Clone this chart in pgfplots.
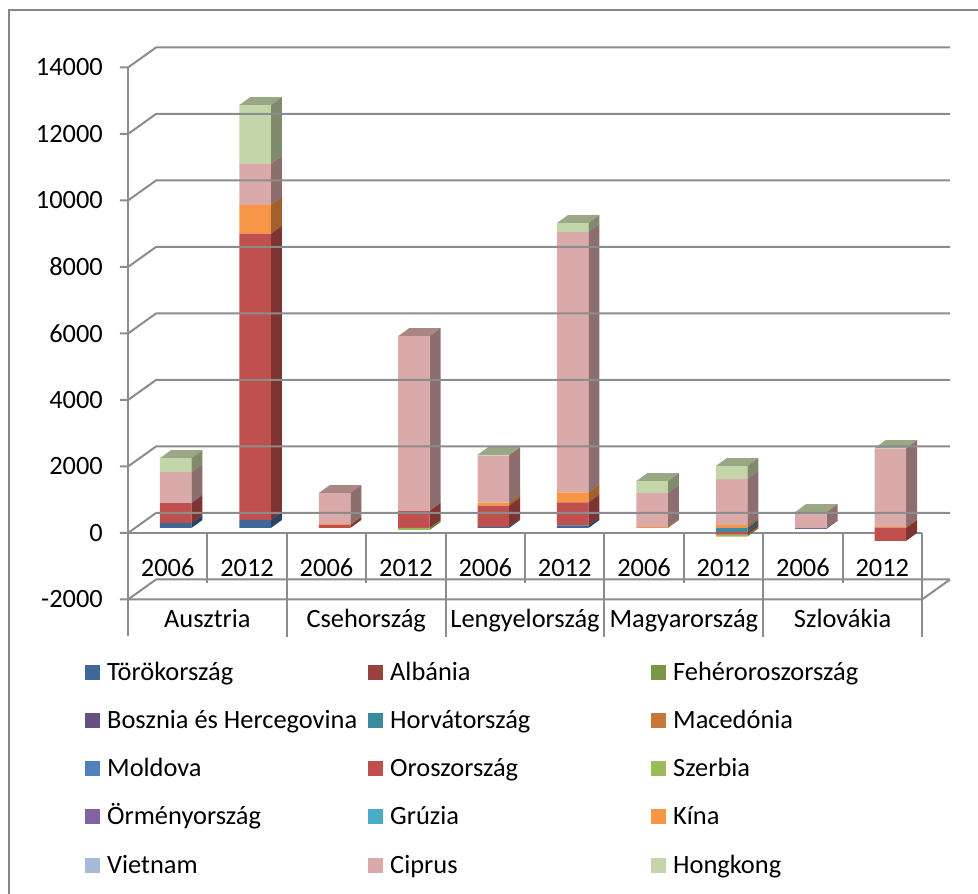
\documentclass[border=0pt]{standalone}
\usepackage{pgfplots}
\pgfplotsset{compat=1.18}
\usepackage{pgfplotstable}
\usepackage{fontspec}
\setmainfont{Carlito}
\newcommand\cf{\fontsize{26.4pt}{31pt}\selectfont}

\definecolor{cTor}{HTML}{3F6797}
\definecolor{cAlb}{HTML}{9A403E}
\definecolor{cFeh}{HTML}{7C9647}
\definecolor{cBos}{HTML}{665082}
\definecolor{cHor}{HTML}{3C8A9E}
\definecolor{cMac}{HTML}{C67838}
\definecolor{cMol}{HTML}{4F81BD}
\definecolor{cOro}{HTML}{C0504D}
\definecolor{cSze}{HTML}{9BBB59}
\definecolor{cOrm}{HTML}{8064A2}
\definecolor{cGru}{HTML}{4BACC6}
\definecolor{cKin}{HTML}{F79646}
\definecolor{cVie}{HTML}{A9BAD9}
\definecolor{cCip}{HTML}{D9AAA9}
\definecolor{cHon}{HTML}{C4D6A9}
\definecolor{gridc}{HTML}{8C8C8C}
\definecolor{borderc}{HTML}{868686}

% positive parts (stacked upward from 0)
\pgfplotstableread{
x Tor Alb Feh Bos Hor Mac Mol Oro Sze Orm Gru Kin Vie Cip Hon
0 150 0 0 0 0 0 0 600 0 0 0 0 0 930 420
1 240 0 0 0 0 0 0 8610 0 0 0 870 0 1230 1770
2 0 0 0 0 0 0 0 90 0 0 0 30 0 930 0
3 0 0 0 0 0 0 0 510 0 0 0 0 0 5260 0
4 30 0 0 0 0 0 0 640 0 0 0 90 0 1420 20
5 80 0 0 0 0 0 0 690 0 0 0 300 0 7830 270
6 0 0 0 0 0 0 0 0 0 0 0 30 0 1020 360
7 0 0 0 0 0 0 0 0 0 0 0 90 0 1380 390
8 0 0 0 0 0 0 0 0 0 0 0 0 0 470 10
9 0 0 0 0 0 0 0 0 0 0 0 30 0 2360 10
}\pos
% negative parts (stacked downward from 0)
\pgfplotstableread{
x Hor Oro Sze Orm
0 0 0 0 0
1 0 0 0 0
2 0 0 0 0
3 0 0 -60 0
4 0 0 0 0
5 0 0 0 0
6 0 0 0 0
7 -120 -80 -60 0
8 0 0 0 -20
9 0 -390 0 0
}\neg

\tikzset{gl/.style={draw=gridc, line width=2pt, line join=round}}
\newcommand\side[4]{\fill[#1!65!black] ([xshift=15.75pt]axis cs:#2,#3) -- ([xshift=26.75pt,yshift=8pt]axis cs:#2,#3) -- ([xshift=26.75pt,yshift=8pt]axis cs:#2,#4) -- ([xshift=15.75pt]axis cs:#2,#4) -- cycle;}
\newcommand\topf[3]{\fill[#1!78!black] ([xshift=-15.75pt]axis cs:#2,#3) -- ([xshift=15.75pt]axis cs:#2,#3) -- ([xshift=26.75pt,yshift=8pt]axis cs:#2,#3) -- ([xshift=-4.75pt,yshift=8pt]axis cs:#2,#3) -- cycle;}
\newcommand\gline[1]{\draw[gl] ([xshift=-16pt,yshift=-5pt]axis cs:-0.5,#1) -- ([xshift=-8pt,yshift=-5pt]axis cs:-0.5,#1) -- ([xshift=20pt,yshift=15pt]axis cs:-0.5,#1) -- ([xshift=20pt,yshift=15pt]axis cs:9.5,#1);}
\newcommand\vsep[2]{\draw[gl] ([xshift=-8pt,yshift=-5pt]axis cs:#1,0) -- ([xshift=-8pt,yshift=-5pt-#2]axis cs:#1,0);}
\newcommand\catname[2]{\node[font=\cf, anchor=base, inner sep=0pt] at ([xshift=-8pt,yshift=-33.5pt]axis cs:#1,-2000) {#2};}
\pgfplotsset{base/.style={
  at={(0,0)}, anchor=south west,
  scale only axis, width=794pt, height=532pt,
  xmin=-0.5, xmax=9.5, ymin=-2000, ymax=14000,
  enlargelimits=false, clip=false,
  ybar stacked, bar width=31.5pt}}

\begin{document}
\begin{tikzpicture}
\begin{axis}[base,
  axis line style={draw=none}, tick style={draw=none},
  scaled y ticks=false,
  ytick={-2000,0,2000,4000,6000,8000,10000,12000,14000},
  yticklabels={-2000,0,2000,4000,6000,8000,10000,12000,14000},
  yticklabel style={font=\cf, anchor=east, inner sep=0pt, xshift=-33pt, yshift=-5pt},
  xtick={0,...,9},
  xticklabels={2006,2012,2006,2012,2006,2012,2006,2012,2006,2012},
  xticklabel style={font=\cf, anchor=base, inner sep=0pt, xshift=-8pt, yshift=17.5pt},
]
% back wall grid with side-wall connectors and front ticks
\gline{-2000}\gline{0}\gline{2000}\gline{4000}\gline{6000}\gline{8000}\gline{10000}\gline{12000}\gline{14000}
% front faces (positive parts)
\pgfplotsinvokeforeach{Tor,Alb,Feh,Bos,Hor,Mac,Mol,Oro,Sze,Orm,Gru,Kin,Vie,Cip,Hon}{
  \addplot[fill=c#1, draw=none] table[x=x, y=#1] {\pos};
}
% side and top faces
\side{cTor}{0}{0}{150}\side{cOro}{0}{150}{750}\side{cCip}{0}{750}{1680}\side{cHon}{0}{1680}{2100}\topf{cHon}{0}{2100}
\side{cTor}{1}{0}{240}\side{cOro}{1}{240}{8850}\side{cKin}{1}{8850}{9720}\side{cCip}{1}{9720}{10950}\side{cHon}{1}{10950}{12720}\topf{cHon}{1}{12720}
\side{cOro}{2}{0}{90}\side{cKin}{2}{90}{120}\side{cCip}{2}{120}{1050}\topf{cCip}{2}{1050}
\side{cOro}{3}{0}{510}\side{cCip}{3}{510}{5770}\topf{cCip}{3}{5770}
\side{cTor}{4}{0}{30}\side{cOro}{4}{30}{670}\side{cKin}{4}{670}{760}\side{cCip}{4}{760}{2180}\side{cHon}{4}{2180}{2200}\topf{cHon}{4}{2200}
\side{cTor}{5}{0}{80}\side{cOro}{5}{80}{770}\side{cKin}{5}{770}{1070}\side{cCip}{5}{1070}{8900}\side{cHon}{5}{8900}{9170}\topf{cHon}{5}{9170}
\side{cKin}{6}{0}{30}\side{cCip}{6}{30}{1050}\side{cHon}{6}{1050}{1410}\topf{cHon}{6}{1410}
\side{cKin}{7}{0}{90}\side{cCip}{7}{90}{1470}\side{cHon}{7}{1470}{1860}\topf{cHon}{7}{1860}
\side{cCip}{8}{0}{470}\side{cHon}{8}{470}{480}\topf{cHon}{8}{480}
\side{cKin}{9}{0}{30}\side{cCip}{9}{30}{2390}\side{cHon}{9}{2390}{2400}\topf{cHon}{9}{2400}
\end{axis}
\begin{axis}[base, hide axis]
% front faces (negative parts, stacked down from 0)
\pgfplotsinvokeforeach{Hor,Oro,Sze,Orm}{
  \addplot[fill=c#1, draw=none] table[x=x, y=#1] {\neg};
}
\side{cSze}{3}{-60}{0}
\side{cHor}{7}{-120}{0}\side{cOro}{7}{-200}{-120}\side{cSze}{7}{-260}{-200}
\side{cOrm}{8}{-20}{0}
\side{cOro}{9}{-390}{0}
% front axis and category table
\draw[gl] ([xshift=-8pt,yshift=-5pt]axis cs:-0.5,14000) -- ([xshift=-8pt,yshift=-42pt]axis cs:-0.5,-2000);
\draw[gl] ([xshift=-8pt,yshift=-5pt]axis cs:-0.5,0) -- ([xshift=-8pt,yshift=-5pt]axis cs:9.5,0);
\draw[gl] ([xshift=-8pt,yshift=-5pt]axis cs:-0.5,-2000) -- ([xshift=-8pt,yshift=-5pt]axis cs:9.5,-2000) -- ([xshift=20pt,yshift=15pt]axis cs:9.5,-2000);
\vsep{0.5}{50pt}\vsep{2.5}{50pt}\vsep{4.5}{50pt}\vsep{6.5}{50pt}\vsep{8.5}{50pt}
\vsep{1.5}{104pt}\vsep{3.5}{104pt}\vsep{5.5}{104pt}\vsep{7.5}{104pt}\vsep{9.5}{104pt}
\catname{0.5}{Ausztria}
\catname{2.5}{Csehország}
\catname{4.5}{Lengyelország}
\catname{6.5}{Magyarország}
\catname{8.5}{Szlovákia}
\end{axis}
% legend
\foreach \c/\t [count=\k from 0] in {cTor/Törökország,cAlb/Albánia,cFeh/Fehéroroszország,cBos/Bosznia és Hercegovina,cHor/Horvátország,cMac/Macedónia,cMol/Moldova,cOro/Oroszország,cSze/Szerbia,cOrm/Örményország,cGru/Grúzia,cKin/Kína,cVie/Vietnam,cCip/Ciprus,cHon/Hongkong}{
  \pgfmathsetmacro\lx{-51+283*mod(\k,3)}
  \pgfmathsetmacro\ly{-78.5-48*div(\k,3)}
  \fill[\c] (\lx pt,\ly pt-7.5pt) rectangle ++(15pt,15pt);
  \node[font=\cf, anchor=base west, inner sep=0pt] at (\lx pt+22pt,\ly pt-8pt) {\t};
}
% chart border
\draw[draw=borderc, line width=2pt] (-127pt,-330pt) -- (-127pt,584.5pt) -- (870pt,584.5pt);
\pgfresetboundingbox
\useasboundingbox (-136pt,-299.5pt) rectangle (842pt,594.5pt);
\end{tikzpicture}
\end{document}
